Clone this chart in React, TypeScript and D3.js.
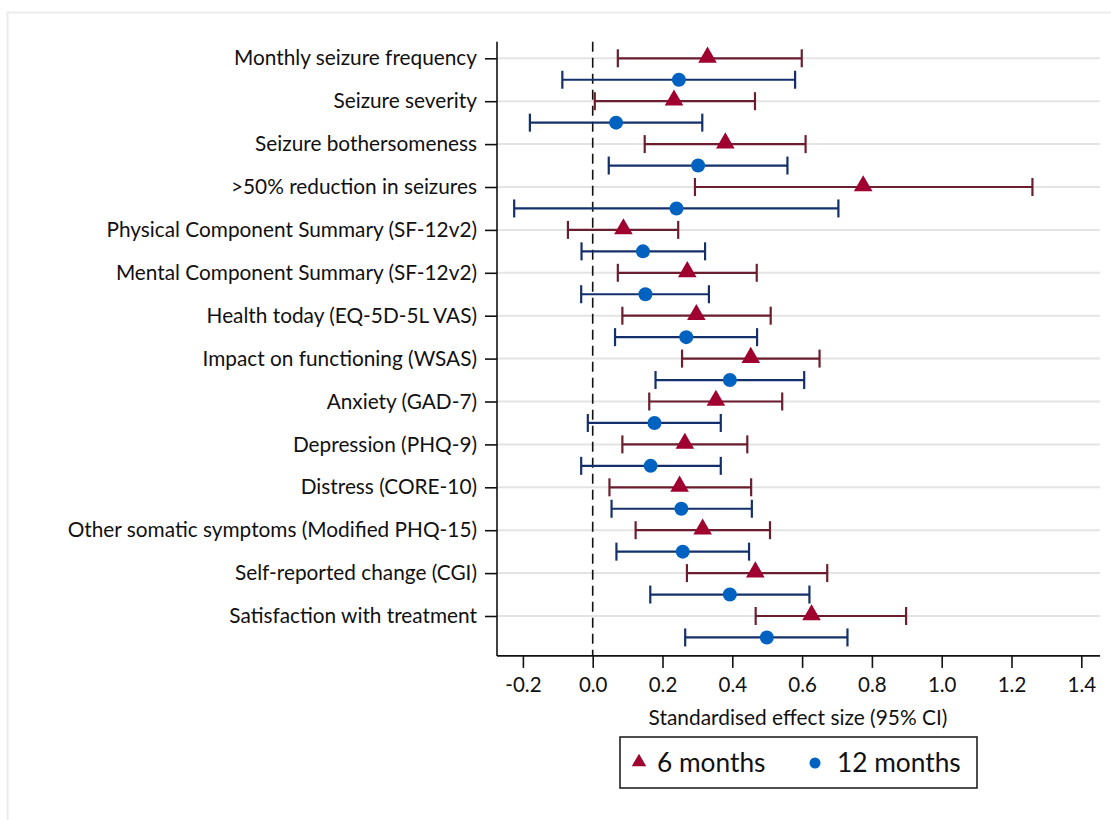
import React, { useEffect, useRef } from 'react';
import * as d3 from 'd3';

const outcomes = [
  'Monthly seizure frequency',
  'Seizure severity',
  'Seizure bothersomeness',
  '>50% reduction in seizures',
  'Physical Component Summary (SF-12v2)',
  'Mental Component Summary (SF-12v2)',
  'Health today (EQ-5D-5L VAS)',
  'Impact on functioning (WSAS)',
  'Anxiety (GAD-7)',
  'Depression (PHQ-9)',
  'Distress (CORE-10)',
  'Other somatic symptoms (Modified PHQ-15)',
  'Self-reported change (CGI)',
  'Satisfaction with treatment',
];

// 6 months: estimate, lower, upper
const est6 = [0.329, 0.233, 0.38, 0.775, 0.088, 0.271, 0.297, 0.453, 0.353, 0.264, 0.249, 0.315, 0.466, 0.627];
const lo6 = [0.072, 0.006, 0.149, 0.293, -0.071, 0.072, 0.085, 0.256, 0.162, 0.085, 0.048, 0.123, 0.27, 0.467];
const hi6 = [0.599, 0.465, 0.61, 1.26, 0.245, 0.47, 0.51, 0.65, 0.543, 0.443, 0.454, 0.508, 0.672, 0.898];

// 12 months
const est12 = [0.247, 0.067, 0.302, 0.24, 0.144, 0.151, 0.268, 0.393, 0.177, 0.166, 0.254, 0.258, 0.393, 0.499];
const lo12 = [-0.087, -0.18, 0.046, -0.225, -0.032, -0.033, 0.064, 0.18, -0.014, -0.033, 0.054, 0.068, 0.165, 0.265];
const hi12 = [0.58, 0.314, 0.558, 0.704, 0.322, 0.333, 0.471, 0.606, 0.367, 0.367, 0.456, 0.448, 0.621, 0.73];

const xTicks = [-0.2, 0, 0.2, 0.4, 0.6, 0.8, 1.0, 1.2, 1.4];

const FONT = 'Lato, "Open Sans", sans-serif';

const App = () => {
  const ref = useRef<SVGSVGElement>(null);

  useEffect(() => {
    if (!ref.current) return;
    const svg = d3.select(ref.current);
    svg.selectAll('*').remove();

    const width = 1111;
    const height = 820;

    // outer frame
    svg.append('rect')
      .attr('x', 7.5).attr('y', 12.5)
      .attr('width', width + 20).attr('height', height + 20)
      .attr('fill', 'white').attr('stroke', '#ececec').attr('stroke-width', 2);

    const x = d3.scaleLinear().domain([0, 1]).range([592.7, 941.7]);
    const y = d3.scaleLinear().domain([0, 13]).range([58.3, 616]);
    const left = 497, right = 1100;
    const top = y(-0.387), bottom = y(13.93);

    const g = svg.append('g');

    // gridlines
    g.selectAll('line.grid')
      .data(outcomes)
      .join('line')
      .attr('x1', left).attr('x2', right)
      .attr('y1', (_, i) => y(i)).attr('y2', (_, i) => y(i))
      .attr('stroke', '#e4e4e4').attr('stroke-width', 2);

    // reference line at zero
    g.append('line')
      .attr('x1', x(0)).attr('x2', x(0))
      .attr('y1', top).attr('y2', bottom)
      .attr('stroke', '#111').attr('stroke-width', 1.6)
      .attr('stroke-dasharray', '10,6');

    // y axis
    const yAxis = g.append('g')
      .attr('transform', `translate(${left},0)`)
      .call(d3.axisLeft(y).tickValues(d3.range(14)).tickSize(12).tickFormat((d) => outcomes[d as number]).tickPadding(8));
    yAxis.select('.domain').attr('d', `M0,${top}V${bottom}`).attr('stroke', '#111').attr('stroke-width', 1.6);
    yAxis.selectAll('.tick line').attr('stroke', '#111').attr('stroke-width', 1.6);
    yAxis.selectAll('.tick text').attr('font-family', FONT).attr('font-size', 20.8).attr('fill', '#111');

    // x axis
    const fmt = d3.format('.1f');
    const xAxis = g.append('g')
      .attr('transform', `translate(0,${bottom})`)
      .call(d3.axisBottom(x).tickValues(xTicks).tickSize(12)
        .tickFormat((d) => fmt(d as number).replace('−', '-')).tickPadding(10));
    xAxis.select('.domain').attr('d', `M${left},0H${right}`).attr('stroke', '#111').attr('stroke-width', 1.6);
    xAxis.selectAll('.tick line').attr('stroke', '#111').attr('stroke-width', 1.6);
    xAxis.selectAll('.tick text').attr('font-family', FONT).attr('font-size', 20.5).attr('fill', '#111');

    g.append('text')
      .attr('x', 798).attr('y', 725)
      .attr('text-anchor', 'middle')
      .attr('font-family', FONT).attr('font-size', 20.9).attr('fill', '#111')
      .text('Standardised effect size (95% CI)');

    const series = [
      { est: est6, lo: lo6, hi: hi6, off: 0, line: '#6b1f2e', fill: '#a00030', shape: 'tri' },
      { est: est12, lo: lo12, hi: hi12, off: 0.5, line: '#14306b', fill: '#0062c0', shape: 'dot' },
    ];

    const triangle = d3.symbol().type(d3.symbolTriangle).size(150);
    const capH = 9;

    series.forEach((s) => {
      const sg = g.append('g');
      const rows = s.est.map((e, i) => ({ e, lo: s.lo[i], hi: s.hi[i], yy: y(i + s.off) }));
      sg.selectAll('line.ci').data(rows).join('line')
        .attr('x1', (d) => x(d.lo)).attr('x2', (d) => x(d.hi))
        .attr('y1', (d) => d.yy).attr('y2', (d) => d.yy)
        .attr('stroke', s.line).attr('stroke-width', 2.2);
      sg.selectAll('line.caplo').data(rows).join('line')
        .attr('x1', (d) => x(d.lo)).attr('x2', (d) => x(d.lo))
        .attr('y1', (d) => d.yy - capH).attr('y2', (d) => d.yy + capH)
        .attr('stroke', s.line).attr('stroke-width', 2.2);
      sg.selectAll('line.caphi').data(rows).join('line')
        .attr('x1', (d) => x(d.hi)).attr('x2', (d) => x(d.hi))
        .attr('y1', (d) => d.yy - capH).attr('y2', (d) => d.yy + capH)
        .attr('stroke', s.line).attr('stroke-width', 2.2);
      if (s.shape === 'tri') {
        sg.selectAll('path.mk').data(rows).join('path')
          .attr('d', triangle as any)
          .attr('transform', (d) => `translate(${x(d.e)},${d.yy - 1})`)
          .attr('fill', s.fill);
      } else {
        sg.selectAll('circle.mk').data(rows).join('circle')
          .attr('cx', (d) => x(d.e)).attr('cy', (d) => d.yy).attr('r', 7)
          .attr('fill', s.fill);
      }
    });

    // legend
    const lg = svg.append('g');
    lg.append('rect')
      .attr('x', 620).attr('y', 737).attr('width', 357).attr('height', 51)
      .attr('fill', 'white').attr('stroke', '#222').attr('stroke-width', 1.6);
    lg.append('path')
      .attr('d', d3.symbol().type(d3.symbolTriangle).size(90)() as string)
      .attr('transform', 'translate(639,762)')
      .attr('fill', '#a00030');
    lg.append('text')
      .attr('x', 657).attr('y', 772)
      .attr('font-family', FONT).attr('font-size', 26.3).attr('fill', '#111')
      .text('6 months');
    lg.append('circle')
      .attr('cx', 815).attr('cy', 763).attr('r', 5.5)
      .attr('fill', '#0062c0');
    lg.append('text')
      .attr('x', 837).attr('y', 772)
      .attr('font-family', FONT).attr('font-size', 26.3).attr('fill', '#111')
      .text('12 months');
  }, []);

  return (
    <svg ref={ref} width={1111} height={820} style={{ position: 'absolute', left: 0, top: 0, display: 'block' }} />
  );
};

export default App;
